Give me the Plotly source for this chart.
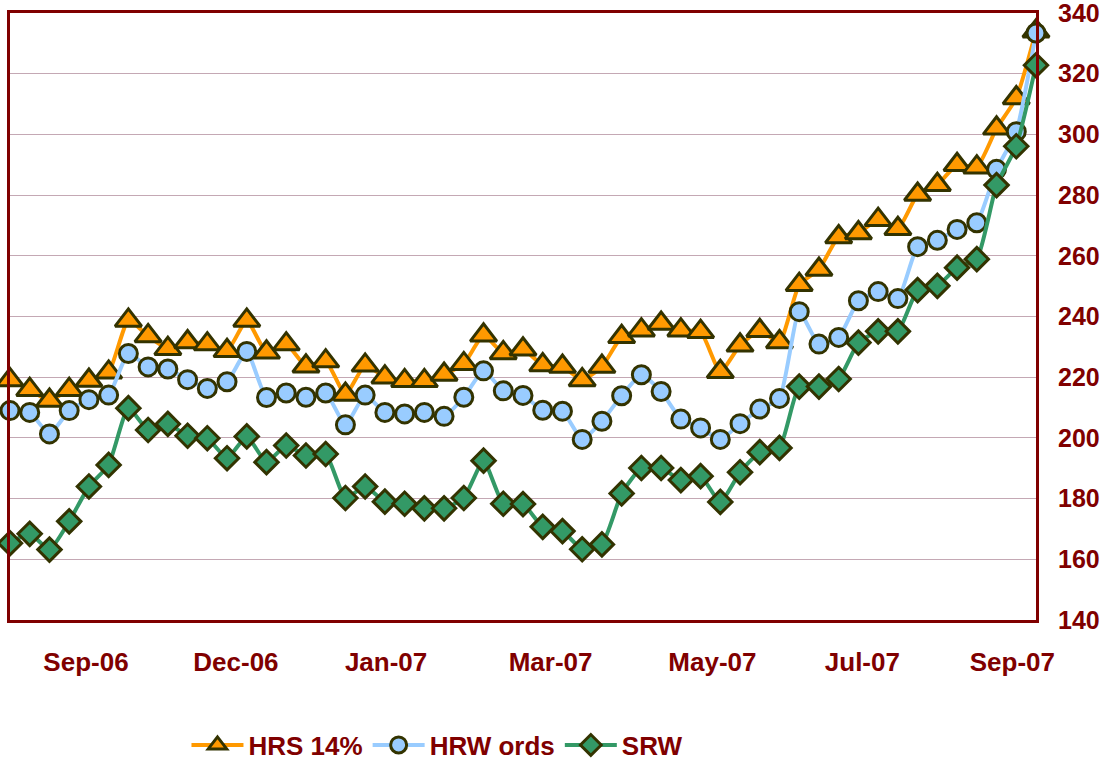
import plotly.graph_objects as go

# weekly price series (index = week number)
hrs_14 = [219.1, 215.9, 212.3, 215.9, 218.9, 221.6, 238.7, 233.6, 229.4, 231.6, 230.9, 228.7, 238.7, 228.2,
          230.9, 223.6, 225.3, 214.3, 223.9, 220.0, 218.8, 218.8, 220.9, 224.4, 233.8, 228.0, 229.2,
          224.0, 223.5, 219.1, 223.5, 233.3, 235.5, 237.7, 235.5, 235.0, 221.8, 230.5, 235.3, 231.6,
          250.5, 255.5, 266.2, 267.5, 271.9, 268.9, 280.2, 283.4, 290.0, 289.2, 302.0, 312.0, 334.0]
hrw_ords = [209.0, 208.4, 201.3, 209.0, 212.6, 214.1, 227.8, 223.4, 222.7, 219.2, 216.3, 218.5, 228.5, 213.3,
            214.8, 213.4, 214.8, 204.3, 214.1, 208.4, 207.9, 208.4, 207.1, 213.4, 222.1, 215.5, 214.0,
            209.1, 208.8, 199.5, 205.5, 213.9, 220.8, 215.3, 206.2, 203.3, 199.5, 204.7, 209.5, 213.0,
            241.6, 230.9, 233.1, 245.2, 248.2, 245.9, 263.0, 265.1, 268.7, 270.9, 288.5, 300.9, 333.4]
srw = [165.3, 168.4, 163.2, 172.5, 184.0, 191.1, 209.8, 202.6, 204.6, 200.7, 199.9, 193.3, 200.5, 192.0,
       197.5, 194.2, 194.7, 180.2, 184.0, 179.0, 178.3, 176.8, 176.8, 180.2, 192.5, 178.3, 178.2,
       170.7, 169.3, 163.3, 164.9, 181.7, 190.1, 190.1, 186.1, 187.4, 178.9, 188.7, 195.3, 196.7,
       216.9, 216.9, 219.4, 231.4, 235.1, 235.1, 248.7, 250.1, 256.1, 258.9, 283.3, 296.1, 322.8]
weeks = list(range(len(hrs_14)))

month_labels = ["Sep-06", "Dec-06", "Jan-07", "Mar-07", "May-07", "Jul-07", "Sep-07"]

MAROON = "#800000"
EDGE = "#333300"
FONT = "Liberation Sans, Arial, sans-serif"

series = [
    ("HRS 14%", hrs_14, "#FF9900", "triangle-up", 23),
    ("HRW ords", hrw_ords, "#99CCFF", "circle", 18),
    ("SRW", srw, "#339966", "diamond", 18),
]

fig = go.Figure()
for name, values, colour, symbol, size in series:
    fig.add_trace(go.Scatter(
        x=weeks, y=values, name=name, mode="lines+markers",
        line=dict(color=colour, width=4, shape="spline", smoothing=0.5),
        marker=dict(symbol=symbol, size=size, color=colour, line=dict(color=EDGE, width=3)),
        cliponaxis=False,
    ))

fig.update_layout(
    width=1101, height=771,
    margin=dict(l=10, r=65, t=13, b=151, autoexpand=False),
    paper_bgcolor="white", plot_bgcolor="white",
    font=dict(family=FONT, size=26, color=MAROON, weight="bold"),
    showlegend=True,
    legend=dict(
        orientation="h", x=0.172, xanchor="left", y=-0.206, yanchor="middle",
        font=dict(family=FONT, size=26, color=MAROON, weight="bold"),
        itemwidth=52, bgcolor="rgba(0,0,0,0)",
    ),
)
fig.update_xaxes(
    range=[0, 52], automargin=False,
    tickmode="array",
    tickvals=[3.85, 11.45, 19.06, 27.4, 35.6, 43.2, 50.8],
    ticktext=month_labels,
    ticks="", showgrid=False, zeroline=False,
    showline=True, linecolor=MAROON, linewidth=3, mirror=True,
    ticklabelstandoff=17, ticklabeloverflow="allow",
)
fig.update_yaxes(
    range=[140, 340], dtick=20, side="right", automargin=False,
    tickfont=dict(size=25),
    ticks="", showgrid=True, gridcolor="#C4A8B4", gridwidth=1, zeroline=False,
    showline=True, linecolor=MAROON, linewidth=3, mirror=True,
    ticklabelstandoff=14, ticklabeloverflow="allow",
)

# drop the default 8px body margin so the figure fills the window exactly
fig.write_html(
    "out.html",
    config={"displayModeBar": False},
    post_script="document.body.style.margin = '0px';",
)
